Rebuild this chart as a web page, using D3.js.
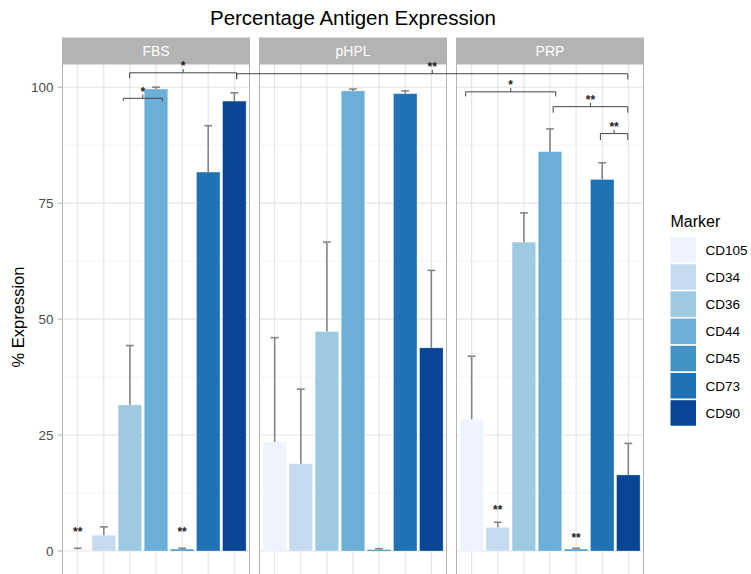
<!DOCTYPE html>
<html>
<head>
<meta charset="utf-8">
<script src="https://cdn.jsdelivr.net/npm/d3@7"></script>
<style>
  body { margin: 0; background: #fff; }
  svg { display: block; font-family: "Liberation Sans", Arial, Helvetica, sans-serif; }
</style>
</head>
<body>
<div id="chart"></div>
<script>
const width = 751, height = 574

// categories
const markers = ['CD105', 'CD34', 'CD36', 'CD44', 'CD45', 'CD73', 'CD90']
const media = ['FBS', 'pHPL', 'PRP']
const colors = ['#eff3ff', '#c6dbef', '#9ecae1', '#6baed6', '#4292c6', '#2171b5', '#084594']
const yTicks = [0, 25, 50, 75, 100]
const yMinor = [12.5, 37.5, 62.5, 87.5]

// mean % expression and upper error (sd)
const fbsMean = [0.3, 3.4, 31.5, 99.6, 0.4, 81.7, 97.0]
const fbsErr = [0.3, 1.8, 12.8, 0.4, 0.2, 10.0, 1.8]
const phplMean = [23.5, 18.8, 47.3, 99.2, 0.3, 98.6, 43.8]
const phplErr = [22.5, 16.1, 19.3, 0.4, 0.2, 0.6, 16.7]
const prpMean = [28.4, 5.1, 66.6, 86.1, 0.4, 80.1, 16.4]
const prpErr = [13.6, 1.1, 6.3, 4.9, 0.2, 3.6, 6.8]

// stars above single bars: medium, marker index, height
const barStars = [
    {medium: 'FBS', i: 0, y: 4.5, label: '**'},
    {medium: 'FBS', i: 4, y: 4.5, label: '**'},
    {medium: 'PRP', i: 1, y: 9.3, label: '**'},
    {medium: 'PRP', i: 4, y: 3.3, label: '**'}
]

// comparison brackets: [medium, index] at each end, bracket height
const brackets = [
    {from: ['FBS', 1.75], to: ['FBS', 3.24], y: 97.6, drop: 0.6, label: '*'},
    {from: ['FBS', 1.99], to: ['FBS', 6.09], y: 103.1, drop: 1.2, label: '*'},
    {from: ['FBS', 6.09], to: ['PRP', 5.98], y: 102.9, drop: 1.2, label: '**'},
    {from: ['PRP', -0.23], to: ['PRP', 3.22], y: 99.0, drop: 1.0, label: '*'},
    {from: ['PRP', 3.12], to: ['PRP', 5.98], y: 95.8, drop: 1.3, label: '**'},
    {from: ['PRP', 4.93], to: ['PRP', 5.98], y: 90.0, drop: 1.4, label: '**'}
]

const means = {FBS: fbsMean, pHPL: phplMean, PRP: prpMean}
const errs = {FBS: fbsErr, pHPL: phplErr, PRP: prpErr}

const plot = {left: 62, right: 644, stripTop: 37.5, top: 64, bottom: 574.2}

const panel = d3.scaleBand()
    .domain(media)
    .range([plot.left, plot.right])
    .paddingInner(9 / 197)

const x = d3.scaleLinear()
    .domain([-0.6, markers.length - 0.4])
    .range([0, panel.bandwidth()])

const y = d3.scaleLinear()
    .domain([-5, 105])
    .range([plot.bottom, plot.top])

const fill = d3.scaleOrdinal().domain(markers).range(colors)

const px = (m, i) => panel(m) + x(i)

const svg = d3.select('#chart')
    .append('svg')
    .attr('width', width)
    .attr('height', height)

media.forEach(function(m) {
    const g = svg.append('g').attr('transform', 'translate(' + panel(m) + ',0)')

    g.append('rect')
        .attr('x', 0).attr('y', plot.top)
        .attr('width', panel.bandwidth()).attr('height', plot.bottom - plot.top)
        .attr('fill', '#fff')

    g.selectAll('.minor').data(yMinor).join('line')
        .attr('x1', 0).attr('x2', panel.bandwidth())
        .attr('y1', d => y(d)).attr('y2', d => y(d))
        .attr('stroke', '#ededed').attr('stroke-width', 0.6)

    g.selectAll('.hmajor').data(yTicks).join('line')
        .attr('x1', 0).attr('x2', panel.bandwidth())
        .attr('y1', d => y(d)).attr('y2', d => y(d))
        .attr('stroke', '#e3e3e3').attr('stroke-width', 1.1)

    g.selectAll('.vmajor').data(markers).join('line')
        .attr('x1', (d, i) => x(i)).attr('x2', (d, i) => x(i))
        .attr('y1', plot.top).attr('y2', plot.bottom)
        .attr('stroke', '#e3e3e3').attr('stroke-width', 1.1)

    const bw = x(0.45) - x(0)
    g.selectAll('.bar').data(markers).join('rect')
        .attr('x', (d, i) => x(i) - bw)
        .attr('width', bw * 2)
        .attr('y', (d, i) => y(Math.max(means[m][i], 0)))
        .attr('height', (d, i) => y(0) - y(means[m][i]))
        .attr('fill', d => fill(d))
        .attr('stroke', '#fff').attr('stroke-opacity', 0.35).attr('stroke-width', 0.8)

    const cap = x(0.15) - x(0)
    const eb = g.selectAll('.err').data(markers).join('g')
        .attr('stroke', '#858585').attr('stroke-width', 1.6)
    eb.append('line')
        .attr('x1', (d, i) => x(i)).attr('x2', (d, i) => x(i))
        .attr('y1', (d, i) => y(means[m][i]))
        .attr('y2', (d, i) => y(means[m][i] + errs[m][i]))
    eb.append('line')
        .attr('x1', (d, i) => x(i) - cap).attr('x2', (d, i) => x(i) + cap)
        .attr('y1', (d, i) => y(means[m][i] + errs[m][i]))
        .attr('y2', (d, i) => y(means[m][i] + errs[m][i]))

    g.append('rect')
        .attr('x', 0.5).attr('y', plot.top)
        .attr('width', panel.bandwidth() - 1).attr('height', plot.bottom - plot.top + 2)
        .attr('fill', 'none').attr('stroke', '#b3b3b3').attr('stroke-width', 1)

    g.append('rect')
        .attr('x', 0).attr('y', plot.stripTop)
        .attr('width', panel.bandwidth()).attr('height', plot.top - plot.stripTop)
        .attr('fill', '#b3b3b3')

    g.append('text')
        .attr('x', panel.bandwidth() / 2)
        .attr('y', (plot.stripTop + plot.top) / 2 + 5)
        .attr('text-anchor', 'middle')
        .attr('fill', '#fff')
        .attr('font-size', 14)
        .text(m)
})

// y axis on the first panel
const yAxis = svg.append('g')
yAxis.selectAll('line').data(yTicks).join('line')
    .attr('x1', plot.left - 4.5).attr('x2', plot.left)
    .attr('y1', d => y(d)).attr('y2', d => y(d))
    .attr('stroke', '#b3b3b3').attr('stroke-width', 1)
yAxis.selectAll('text').data(yTicks).join('text')
    .attr('x', plot.left - 8.5)
    .attr('y', d => y(d) + 4.8)
    .attr('text-anchor', 'end')
    .attr('fill', '#4d4d4d')
    .attr('font-size', 13.5)
    .text(d => d)

svg.append('text')
    .attr('transform', 'translate(24,317) rotate(-90)')
    .attr('text-anchor', 'middle')
    .attr('font-size', 16.5)
    .attr('fill', '#000')
    .text('% Expression')

svg.append('text')
    .attr('x', 353).attr('y', 25)
    .attr('text-anchor', 'middle')
    .attr('font-size', 20.5)
    .attr('fill', '#000')
    .text('Percentage Antigen Expression')

// significance brackets
const br = svg.append('g').attr('fill', 'none').attr('stroke', '#444').attr('stroke-width', 1)
brackets.forEach(function(b) {
    const x1 = px(b.from[0], b.from[1]), x2 = px(b.to[0], b.to[1])
    const xm = (x1 + x2) / 2
    br.append('path')
        .attr('d', 'M' + x1 + ',' + y(b.y - b.drop) + 'L' + x1 + ',' + y(b.y) +
            'L' + x2 + ',' + y(b.y) + 'L' + x2 + ',' + y(b.y - b.drop) +
            'M' + xm + ',' + y(b.y) + 'L' + xm + ',' + y(b.y + 0.8))
    svg.append('text')
        .attr('x', xm).attr('y', y(b.y) - 2.5)
        .attr('text-anchor', 'middle')
        .attr('font-size', 12).attr('font-weight', 'bold')
        .attr('fill', '#222')
        .text(b.label)
})

svg.selectAll('.star').data(barStars).join('text')
    .attr('x', d => px(d.medium, d.i))
    .attr('y', d => y(d.y) + 6)
    .attr('text-anchor', 'middle')
    .attr('font-size', 12).attr('font-weight', 'bold')
    .attr('fill', '#222')
    .text(d => d.label)

// legend
const legend = svg.append('g').attr('transform', 'translate(670.5,0)')
legend.append('text')
    .attr('x', 0).attr('y', 226.5)
    .attr('font-size', 16)
    .text('Marker')
const item = legend.selectAll('.key').data(markers).join('g')
    .attr('transform', (d, i) => 'translate(0,' + (237 + i * 27.2) + ')')
item.append('rect')
    .attr('width', 25.5).attr('height', 25.5)
    .attr('fill', d => fill(d))
item.append('text')
    .attr('x', 35).attr('y', 17.5)
    .attr('font-size', 13.5)
    .text(d => d)
</script>
</body>
</html>
